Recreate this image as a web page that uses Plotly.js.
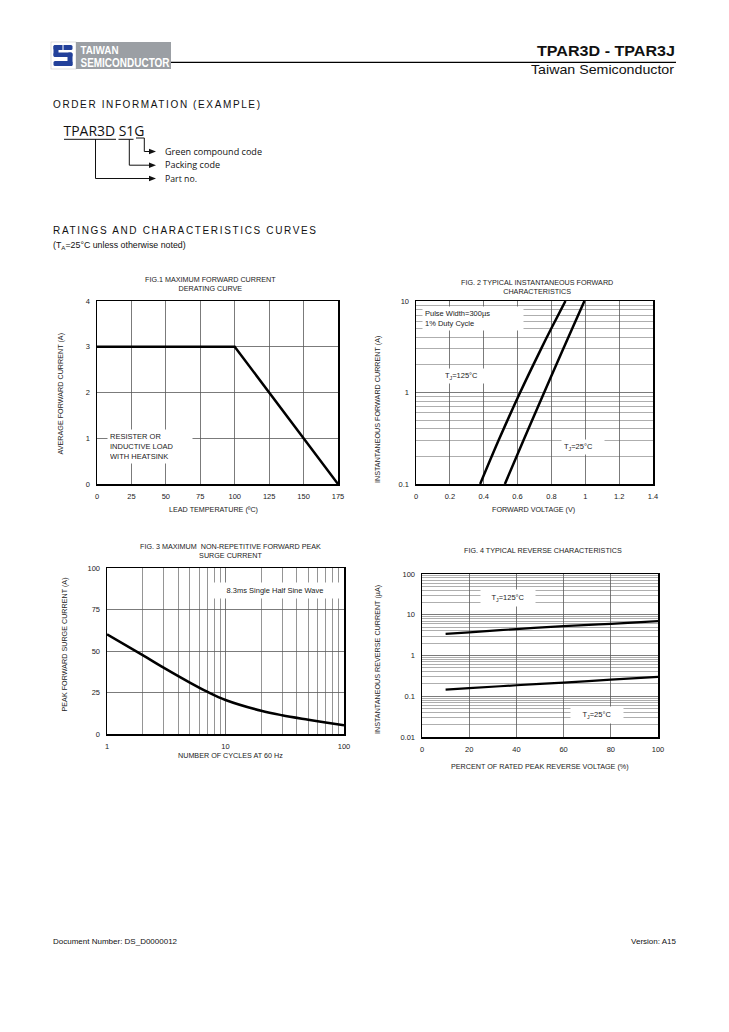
<!DOCTYPE html>
<html>
<head>
<meta charset="utf-8">
<script src="https://cdn.plot.ly/plotly-3.0.1.min.js"></script>
<style>
  html, body { margin: 0; padding: 0; background: #fff; }
  #wrap { position: relative; width: 729px; height: 1032px; overflow: hidden; }
  #chart { position: absolute; left: 0; top: 0; width: 729px; height: 1032px; }
  #overlay { position: absolute; left: 0; top: 0; pointer-events: none; z-index: 10; }
  #overlay text { font-family: "Liberation Sans", Arial, sans-serif; fill: #111; }
</style>
</head>
<body>
<div id="wrap">
  <div id="chart"></div>
  <svg id="overlay" width="729" height="1032" viewBox="0 0 729 1032">
    <!-- logo -->
    <rect x="51" y="42" width="25" height="27" fill="#fff" stroke="#c8c8c8" stroke-width="0.6"/>
    <g fill="#22409a">
      <rect x="53.5" y="45" width="19" height="5" rx="1.5"/>
      <rect x="53.5" y="45" width="5" height="11.5" rx="1.5"/>
      <rect x="53.5" y="52.5" width="19" height="4.5" rx="1.5"/>
      <rect x="67.5" y="52.5" width="5" height="13.5" rx="1.5"/>
      <rect x="53.5" y="61" width="19" height="5" rx="1.5"/>
    </g>
    <line x1="63" y1="44" x2="63" y2="52" stroke="#fff" stroke-width="1"/>
    <line x1="63" y1="57" x2="63" y2="61" stroke="#fff" stroke-width="1"/>
    <rect x="76" y="42" width="95" height="27" fill="#9b9fa4"/>
    <text x="80.5" y="54" font-size="10" font-weight="bold" style="fill:#fff" textLength="38" lengthAdjust="spacingAndGlyphs">TAIWAN</text>
    <text x="80.5" y="67" font-size="12" font-weight="bold" style="fill:#fff" textLength="89" lengthAdjust="spacingAndGlyphs">SEMICONDUCTOR</text>
    <line x1="171" y1="62.3" x2="676" y2="62.3" stroke="#000" stroke-width="1.3"/>
    <text x="675" y="56" font-size="14" font-weight="bold" text-anchor="end" textLength="138" lengthAdjust="spacingAndGlyphs">TPAR3D - TPAR3J</text>
    <text x="674" y="73.5" font-size="13" text-anchor="end" textLength="143" lengthAdjust="spacingAndGlyphs">Taiwan Semiconductor</text>

    <!-- order information -->
    <text x="53" y="108" font-size="10" textLength="207" lengthAdjust="spacing">ORDER INFORMATION (EXAMPLE)</text>
    <text x="63.5" y="135.5" font-size="14" style="font-family:'Open Sans',sans-serif" textLength="81" lengthAdjust="spacingAndGlyphs">TPAR3D S1G</text>
    <g stroke="#111" stroke-width="1" fill="none">
      <line x1="64" y1="139.3" x2="116" y2="139.3"/>
      <line x1="118.5" y1="139.3" x2="133.5" y2="139.3"/>
      <polyline points="136,138 144.3,138 144.3,151.5 150,151.5"/>
      <polyline points="129.3,139.3 129.3,165.2 150,165.2"/>
      <polyline points="95.5,139.3 95.5,178.5 150,178.5"/>
    </g>
    <g fill="#111">
      <polygon points="149,148.8 156,151.5 149,154.2"/>
      <polygon points="149,162.5 156,165.2 149,167.9"/>
      <polygon points="149,175.8 156,178.5 149,181.2"/>
    </g>
    <text x="165" y="154.7" font-size="9.5" style="font-family:'Open Sans',sans-serif" textLength="97" lengthAdjust="spacingAndGlyphs">Green compound code</text>
    <text x="165" y="168.4" font-size="9.5" style="font-family:'Open Sans',sans-serif" textLength="55" lengthAdjust="spacingAndGlyphs">Packing code</text>
    <text x="165" y="181.8" font-size="9.5" style="font-family:'Open Sans',sans-serif" textLength="32" lengthAdjust="spacingAndGlyphs">Part no.</text>

    <!-- section heading -->
    <text x="53" y="233.5" font-size="10" textLength="263" lengthAdjust="spacing">RATINGS AND CHARACTERISTICS CURVES</text>
    <text x="53" y="248" font-size="8.8">(T<tspan font-size="6.2" dy="2">A</tspan><tspan dy="-2">=25°C unless otherwise noted)</tspan></text>

    <!-- footer -->
    <text x="53" y="944" font-size="8">Document Number: DS_D0000012</text>
    <text x="676" y="944" font-size="8" text-anchor="end">Version: A15</text>
  </svg>
</div>
<script>
// ---------- data ----------
// Fig.1 derating curve
const fig1Temp    = [0, 100, 175];
const fig1Current = [3, 3, 0];
const fig1TempTicks = [0, 25, 50, 75, 100, 125, 150, 175];
const fig1CurrentTicks = [0, 1, 2, 3, 4];

// Fig.2 forward characteristics
const fig2V125 = [0.379, 0.488, 0.615, 0.739, 0.799, 0.883];
const fig2I125 = [0.1, 0.3, 1, 3, 5, 10];
const fig2V25  = [0.525, 0.635, 0.757, 0.870, 0.923, 0.995];
const fig2I25  = [0.1, 0.3, 1, 3, 5, 10];
const fig2VoltTicks = [0, 0.2, 0.4, 0.6, 0.8, 1, 1.2, 1.4];
const fig2CurrTicks = [0.1, 1, 10];
const fig2CurrTickText = ['0.1', '1', '10'];

// Fig.3 surge current
const fig3Cycles = [1, 2, 3, 5, 7, 10, 20, 30, 50, 70, 100];
const fig3Surge  = [60, 47.5, 40, 31, 25.5, 20.5, 14, 11.3, 8.6, 6.9, 5.2];
const fig3CycleTicks = [1, 10, 100];
const fig3CycleTickText = ['1', '10', '100'];
const fig3SurgeTicks = [0, 25, 50, 75, 100];

// Fig.4 reverse characteristics
const fig4Pct  = [10, 20, 40, 60, 80, 100];
const fig4I125 = [3.4, 3.7, 4.45, 5.25, 6.0, 7.0];
const fig4I25  = [0.146, 0.158, 0.186, 0.217, 0.255, 0.30];
const fig4PctTicks = [0, 20, 40, 60, 80, 100];
const fig4CurrTicks = [0.01, 0.1, 1, 10, 100];
const fig4CurrTickText = ['0.01', '0.1', '1', '10', '100'];

// ---------- helpers ----------
const W = 729, H = 1032;
const px = v => v / W;
const py = v => 1 - v / H;
function minorLog(lo, hi) {
  const out = [];
  for (let e = lo; e < hi; e++) for (let m = 2; m <= 9; m++) out.push(m * Math.pow(10, e));
  return out;
}
const FONT = 'Liberation Sans, Arial, sans-serif';
const tickFont = { family: FONT, size: 7.5, color: '#222' };
const GRID = '#5a5a5a';
const MINOR = '#9a9a9a';
const base = {
  showline: true, linecolor: '#000', linewidth: 1.5, mirror: true,
  ticks: '', showgrid: true, gridcolor: GRID, gridwidth: 0.8,
  zeroline: false, tickfont: tickFont, fixedrange: true, ticklabelstandoff: 4
};
const lineStyle = { color: '#000', width: 2.5 };
const smooth = { ...lineStyle, shape: 'spline', smoothing: 1 };

const traces = [
  { x: fig1Temp, y: fig1Current, xaxis: 'x', yaxis: 'y', mode: 'lines', line: lineStyle },
  { x: fig2V125, y: fig2I125, xaxis: 'x2', yaxis: 'y2', mode: 'lines', line: smooth },
  { x: fig2V25,  y: fig2I25,  xaxis: 'x2', yaxis: 'y2', mode: 'lines', line: smooth },
  { x: fig3Cycles, y: fig3Surge, xaxis: 'x3', yaxis: 'y3', mode: 'lines', line: smooth },
  { x: fig4Pct, y: fig4I125, xaxis: 'x4', yaxis: 'y4', mode: 'lines', line: { color: '#000', width: 2.2, shape: 'spline' } },
  { x: fig4Pct, y: fig4I25,  xaxis: 'x4', yaxis: 'y4', mode: 'lines', line: { color: '#000', width: 2.2, shape: 'spline' } }
];

function ann(text, x, y, opts) {
  return Object.assign({
    text: text, x: px(x), y: py(y), xref: 'paper', yref: 'paper',
    showarrow: false, xanchor: 'center', yanchor: 'middle',
    font: { family: FONT, size: 7.2, color: '#222' }
  }, opts || {});
}
const boxFont = { family: FONT, size: 7.5, color: '#222' };

const annotations = [
  // figure titles
  ann('FIG.1 MAXIMUM FORWARD CURRENT<br>DERATING CURVE', 210, 284),
  ann('FIG. 2 TYPICAL INSTANTANEOUS FORWARD<br>CHARACTERISTICS', 537, 287),
  ann('FIG. 3 MAXIMUM  NON-REPETITIVE FORWARD PEAK<br>SURGE CURRENT', 230, 551),
  ann('FIG. 4 TYPICAL REVERSE CHARACTERISTICS', 543, 550),
  // axis titles
  ann('LEAD TEMPERATURE (ºC)', 213, 509),
  ann('AVERAGE FORWARD CURRENT (A)', 59.5, 393, { textangle: -90 }),
  ann('FORWARD VOLTAGE (V)', 533, 509),
  ann('INSTANTANEOUS FORWARD CURRENT (A)', 377, 410, { textangle: -90 }),
  ann('NUMBER OF CYCLES AT 60 Hz', 230, 755),
  ann('PEAK FORWARD SURGE CURRENT (A)', 63.5, 645, { textangle: -90 }),
  ann('PERCENT OF RATED PEAK REVERSE VOLTAGE (%)', 540, 766),
  ann('INSTANTANEOUS REVERSE CURRENT (µA)', 377, 660, { textangle: -90 }),
  // in-plot notes
  ann('RESISTER OR<br>INDUCTIVE LOAD<br>WITH HEATSINK', 107, 446,
      { xanchor: 'left', align: 'left', width: 80, bgcolor: '#fff', borderpad: 2, font: boxFont }),
  ann('Pulse Width=300µs<br>1% Duty Cycle', 422, 318,
      { xanchor: 'left', align: 'left', width: 96, bgcolor: '#fff', borderpad: 2, font: boxFont }),
  ann('T<sub>J</sub>=125°C', 442, 376,
      { xanchor: 'left', align: 'left', width: 40, bgcolor: '#fff', borderpad: 2, font: boxFont }),
  ann('T<sub>J</sub>=25°C', 561, 447,
      { xanchor: 'left', align: 'left', width: 38, bgcolor: '#fff', borderpad: 2, font: boxFont }),
  ann('8.3ms Single Half Sine Wave', 275, 590,
      { width: 122, bgcolor: '#fff', borderpad: 3, font: boxFont }),
  ann('T<sub>J</sub>=125°C', 508, 598,
      { width: 48, bgcolor: '#fff', borderpad: 3, font: boxFont }),
  ann('T<sub>J</sub>=25°C', 597, 715,
      { width: 46, bgcolor: '#fff', borderpad: 3, font: boxFont })
];

const layout = {
  width: W, height: H,
  margin: { l: 0, r: 0, t: 0, b: 0 },
  paper_bgcolor: '#fff', plot_bgcolor: '#fff',
  showlegend: false,
  font: { family: FONT, size: 7.5, color: '#222' },
  xaxis:  { ...base, domain: [px(97), px(338)], range: [0, 175], tickvals: fig1TempTicks, anchor: 'y' },
  yaxis:  { ...base, domain: [py(484), py(301)], range: [0, 4], tickvals: fig1CurrentTicks, anchor: 'x' },
  xaxis2: { ...base, domain: [px(416), px(653)], range: [0, 1.4], tickvals: fig2VoltTicks, anchor: 'y2' },
  yaxis2: { ...base, domain: [py(484), py(301)], type: 'log', range: [-1, 1],
            tickvals: fig2CurrTicks, ticktext: fig2CurrTickText, anchor: 'x2',
            minor: { tickvals: minorLog(-1, 1), showgrid: true, gridcolor: MINOR, gridwidth: 0.8, ticks: '' } },
  xaxis3: { ...base, domain: [px(107), px(344)], type: 'log', range: [0, 2],
            tickvals: fig3CycleTicks, ticktext: fig3CycleTickText, anchor: 'y3',
            minor: { tickvals: minorLog(0, 2), showgrid: true, gridcolor: '#7a7a7a', gridwidth: 0.8, ticks: '' } },
  yaxis3: { ...base, domain: [py(734), py(568)], range: [0, 100], tickvals: fig3SurgeTicks, anchor: 'x3' },
  xaxis4: { ...base, domain: [px(422), px(658)], range: [0, 100], tickvals: fig4PctTicks, anchor: 'y4' },
  yaxis4: { ...base, domain: [py(737), py(574)], type: 'log', range: [-2, 2],
            tickvals: fig4CurrTicks, ticktext: fig4CurrTickText, anchor: 'x4',
            minor: { tickvals: minorLog(-2, 2), showgrid: true, gridcolor: MINOR, gridwidth: 0.8, ticks: '' } },
  annotations: annotations
};

Plotly.newPlot('chart', traces, layout, { staticPlot: true, displayModeBar: false });
</script>
</body>
</html>
